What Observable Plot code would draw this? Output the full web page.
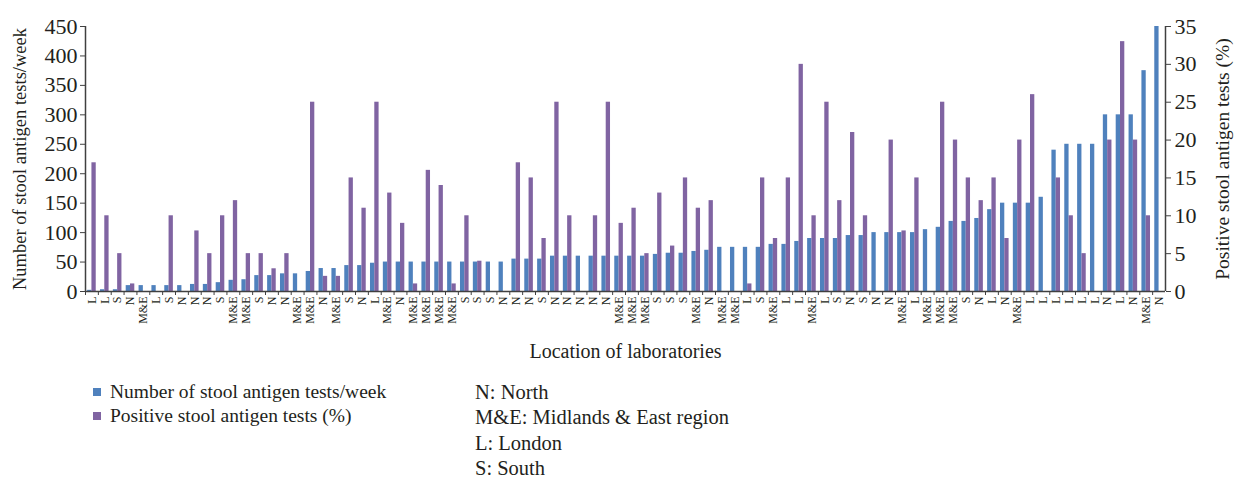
<!DOCTYPE html>
<html><head><meta charset="utf-8">
<script src="https://cdn.jsdelivr.net/npm/d3@7"></script>
<script src="https://cdn.jsdelivr.net/npm/@observablehq/plot@0.6"></script>
<style>
html,body{margin:0;padding:0;background:#fff;}
body{width:1238px;height:479px;position:relative;overflow:hidden;font-family:"Liberation Serif","Times New Roman",serif;color:#231f20;}
#chart{position:absolute;left:0;top:0;width:1238px;height:365px;}
.lg{position:absolute;font-size:19.5px;line-height:22px;white-space:nowrap;}
.lg.key{font-size:20.5px;}
.sw{position:absolute;width:8px;height:8px;}
</style></head><body>
<div id="chart"></div>
<div id="legend"></div>
<script>
// ---- data ----
const regions = ["L","L","S","N","M&E","L","S","N","N","N","S","M&E","M&E","S","N","N","M&E","M&E","N","M&E","S","N","L","M&E","N","M&E","M&E","M&E","M&E","S","S","S","N","N","N","S","N","N","N","N","N","M&E","M&E","M&E","S","S","S","M&E","N","M&E","M&E","L","S","M&E","L","L","M&E","L","S","N","S","N","N","M&E","L","M&E","M&E","M&E","S","N","L","N","M&E","L","L","L","L","L","L","N","L","N","M&E","N"];
const testsPerWeek = [2,3,3,10,10,10,10,10,12,12,15,19,20,27,27,30,30,34,39,39,44,44,48,50,50,50,50,50,50,50,50,50,50,55,55,55,60,60,60,60,60,60,60,60,63,65,65,68,70,75,75,75,75,80,80,85,90,90,90,95,95,100,100,100,100,105,109,119,119,124,139,150,150,150,160,240,250,250,250,300,300,300,375,450];
const positivePct = [17,10,5,1,0,0,10,0,8,5,10,12,5,5,3,5,0,25,2,2,15,11,25,13,9,1,16,14,1,10,4,0,0,17,15,7,25,10,0,10,25,9,11,5,13,6,15,11,12,0,0,1,15,7,15,30,10,25,12,21,10,0,20,8,15,0,25,20,15,12,15,7,20,26,0,15,10,5,0,20,33,20,10,0];
const leftTicks = [0,50,100,150,200,250,300,350,400,450];
const rightTicks = [0,5,10,15,20,25,30,35];
const seriesNames = ["Number of stool antigen tests/week","Positive stool antigen tests (%)"];
const regionKey = ["N: North","M&E: Midlands & East region","L: London","S: South"];
const xTitle = "Location of laboratories";
const colors = ["#4F81BD","#8064A2"];

// ---- chart ----
const leftMax = 450, rightMax = 35, k = leftMax / rightMax;
const rows = regions.map((r, i) => ({i, region: r, tests: testsPerWeek[i], pct: positivePct[i]}));
const W = 1238, H = 365, ml = 85, mr = 73, mt = 26, mb = 74;
const bw = (W - ml - mr) / regions.length;
const barW = 4.3;
const axisColor = "#404040";
const font = "Liberation Serif";

const chart = Plot.plot({
  width: W, height: H,
  marginLeft: ml, marginRight: mr, marginTop: mt, marginBottom: mb,
  style: {fontFamily: font, fontSize: "12px", color: "#231f20", background: "#fff", overflow: "visible"},
  x: {type: "band", domain: d3.range(regions.length), padding: 0},
  y: {domain: [0, leftMax]},
  marks: [
    Plot.barY(rows, {x: "i", y: "tests", fill: colors[0], insetLeft: bw / 2 - barW, insetRight: bw / 2}),
    Plot.barY(rows, {x: "i", y: d => d.pct * k, fill: colors[1], insetLeft: bw / 2, insetRight: bw / 2 - barW}),
    Plot.ruleY([0], {stroke: axisColor, strokeWidth: 1.5}),
    Plot.ruleX([0], {dx: -bw / 2, stroke: axisColor, strokeWidth: 1.5}),
    Plot.ruleX([regions.length - 1], {dx: bw / 2, stroke: axisColor, strokeWidth: 1.5}),
    Plot.axisY(leftTicks, {anchor: "left", tickSize: 5, tickPadding: 3, fontSize: 22, stroke: axisColor,
      label: seriesNames[0], labelAnchor: "center", labelOffset: 73, labelArrow: "none"}),
    Plot.axisY(rightTicks.map(t => t * k), {anchor: "right", tickSize: 5, tickPadding: 4, fontSize: 22, stroke: axisColor,
      tickFormat: d => String(Math.round(d / k)),
      label: seriesNames[1], labelAnchor: "center", labelOffset: 63, labelArrow: "none"}),
    Plot.axisX({tickSize: 4, dx: -bw / 2, stroke: axisColor, tickFormat: () => "", label: null}),
    Plot.axisX({tickSize: 0, tickPadding: 5, tickRotate: -90, fontSize: 12, tickFormat: i => regions[i],
      label: xTitle, labelAnchor: "center", labelOffset: 66, labelArrow: "none"})
  ]
});
document.getElementById("chart").appendChild(chart);

// axis title font sizes
chart.querySelectorAll("text").forEach(t => {
  if (t.textContent === xTitle) t.setAttribute("font-size", "20");
  if (t.textContent === seriesNames[0]) t.setAttribute("font-size", "18.5");
  if (t.textContent === seriesNames[1]) t.setAttribute("font-size", "19.5");
});

// ---- legend ----
const lg = document.getElementById("legend");
seriesNames.forEach((name, j) => {
  const sw = document.createElement("div");
  sw.className = "sw";
  sw.style.left = "93px"; sw.style.top = (388 + j * 24) + "px"; sw.style.background = colors[j];
  lg.appendChild(sw);
  const t = document.createElement("div");
  t.className = "lg"; t.textContent = name;
  t.style.left = "110px"; t.style.top = (381 + j * 24) + "px";
  lg.appendChild(t);
});
regionKey.forEach((name, j) => {
  const t = document.createElement("div");
  t.className = "lg key"; t.textContent = name;
  t.style.left = "475px"; t.style.top = (381 + j * 25.3) + "px";
  lg.appendChild(t);
});
</script>
</body></html>
